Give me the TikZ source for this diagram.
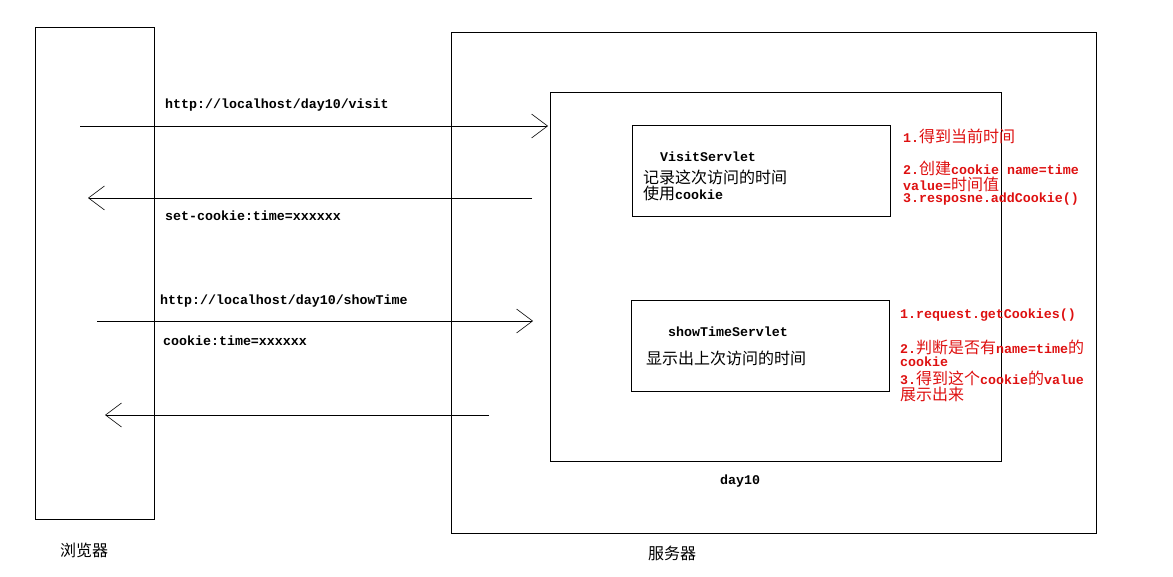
\documentclass[tikz,border=0pt]{standalone}
\usepackage{fontspec}
\setmonofont{Liberation Mono}
\newfontfamily\cjk{Noto Sans CJK SC}
\usetikzlibrary{arrows.meta}
\definecolor{notered}{RGB}{222,16,16}
\tikzset{
	frame/.style={draw,line width=0.9pt,anchor=north west,inner sep=0pt},
	msg/.style={line width=0.8pt,-{Straight Barb[length=16pt,width=24pt,line width=0.6pt]}},
	code/.style={anchor=west,inner sep=0pt,font=\ttfamily\bfseries\fontsize{13.3}{15}\selectfont},
	zh/.style={anchor=west,inner sep=0pt,font=\cjk\fontsize{16}{17}\selectfont},
	note/.style={code,text=notered},
}
\newcommand{\zhtxt}[1]{{\cjk\mdseries\fontsize{16}{17}\selectfont #1}}
\begin{document}
\begin{tikzpicture}[x=1pt,y=-1pt]
	\useasboundingbox (0,0) rectangle (1173,577);
	% boxes
	\node[frame,minimum width=119pt,minimum height=492pt] (browser) at (35,27) {};
	\node[frame,minimum width=645pt,minimum height=501pt] (server) at (451,32) {};
	\node[frame,minimum width=451pt,minimum height=369pt] (day) at (550,92) {};
	\node[frame,minimum width=258pt,minimum height=91pt] (visit) at (632,125) {};
	\node[frame,minimum width=258pt,minimum height=91pt] (show) at (631,300) {};
	% messages
	\coordinate (req1s) at (80,126);
	\coordinate (req1e) at (548,126);
	\coordinate (res1s) at (532,198);
	\coordinate (res1e) at (88,198);
	\coordinate (req2s) at (97,321);
	\coordinate (req2e) at (533,321);
	\coordinate (res2s) at (489,415);
	\coordinate (res2e) at (105,415);
	\draw[msg] (req1s) -- (req1e);
	\draw[msg] (res1s) -- (res1e);
	\draw[msg] (req2s) -- (req2e);
	\draw[msg] (res2s) -- (res2e);
	\node[code] (url1) at (165,105) {http://localhost/day10/visit};
	\node[code] (setck) at (165,216) {set-cookie:time=xxxxxx};
	\node[code] (url2) at (160,301) {http://localhost/day10/showTime};
	\node[code] (sendck) at (163,341) {cookie:time=xxxxxx};
	% servlets
	\node[code] (visitname) at (660,157) {VisitServlet};
	\node[zh] (visitl1) at (643,177) {记录这次访问的时间};
	\node[code] (visitl2) at (643,193) {\zhtxt{使用}cookie};
	\node[code] (showname) at (668,332) {showTimeServlet};
	\node[zh] (showl1) at (646,358) {显示出上次访问的时间};
	\node[code] (dayname) at (720,481) {day10};
	% notes
	\node[note] (va) at (903,136) {1.\zhtxt{得到当前时间}};
	\node[note] (vb) at (903,168) {2.\zhtxt{创建}cookie name=time};
	\node[note] (vc) at (903,184) {value=\zhtxt{时间值}};
	\node[note] (vd) at (903,199) {3.resposne.addCookie()};
	\node[note] (sa) at (900,315) {1.request.getCookies()};
	\node[note] (sb) at (900,347) {2.\zhtxt{判断是否有}name=time\zhtxt{的}};
	\node[note] (sc) at (900,362) {cookie};
	\node[note] (sd) at (900,378) {3.\zhtxt{得到这个}cookie\zhtxt{的}value};
	\node[note] (se) at (900,394) {\zhtxt{展示出来}};
	% labels
	\node[zh] (browserlbl) at (60,550) {浏览器};
	\node[zh] (serverlbl) at (648,553) {服务器};
\end{tikzpicture}
\end{document}
